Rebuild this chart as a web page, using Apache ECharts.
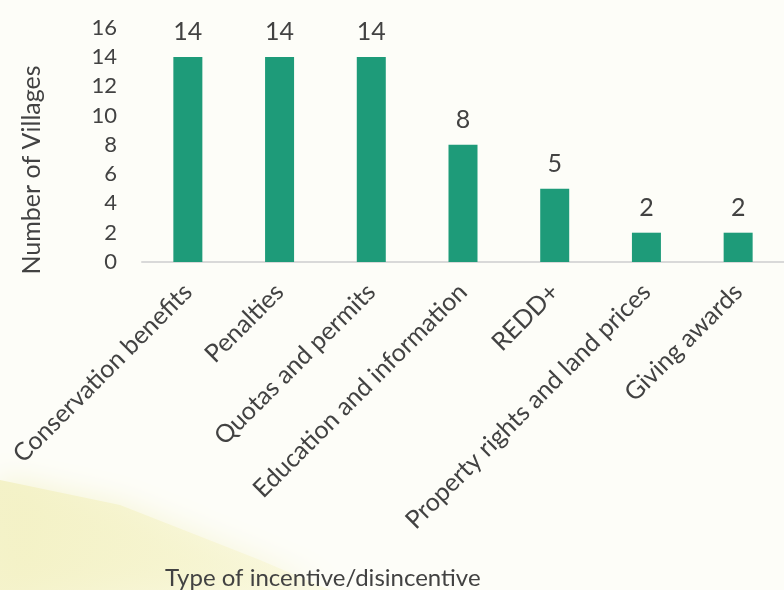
<!DOCTYPE html>
<html>
<head>
<meta charset="utf-8">
<script src="https://cdn.jsdelivr.net/npm/echarts@6/dist/echarts.min.js"></script>
<style>
  html, body { margin: 0; padding: 0; background: #fdfdf8; }
  #chart { width: 784px; height: 590px; }
</style>
</head>
<body>
<div id="chart"></div>
<script>
// chart data
const categories = ['Conservation benefits', 'Penalties', 'Quotas and permits', 'Education and information', 'REDD+', 'Property rights and land prices', 'Giving awards'];
const villages = [14, 14, 14, 8, 5, 2, 2];
const yTicks = { min: 0, max: 16, step: 2 };

const textColor = '#424242';
const font = 'Lato, "Open Sans", sans-serif';

const chart = echarts.init(document.getElementById('chart'));
chart.setOption({
    backgroundColor: '#fdfdf8',
    textStyle: { fontFamily: font },
    graphic: [
        // soft yellow wash in the lower-left corner
        {
            type: 'polygon',
            z: -10,
            shape: { points: [[0, 480], [120, 505], [260, 560], [330, 590], [0, 590]] },
            style: {
                fill: new echarts.graphic.LinearGradient(0, 0, 1, 1, [
                    { offset: 0, color: 'rgba(243,241,196,0.9)' },
                    { offset: 1, color: 'rgba(248,246,210,0.5)' }
                ]),
                shadowBlur: 30,
                shadowColor: 'rgba(242,240,195,0.9)'
            }
        },
        // y axis title
        {
            type: 'text',
            x: 32,
            y: 170,
            rotation: Math.PI / 2,
            style: { text: 'Number of Villages', fontSize: 25, fill: textColor, fontFamily: font, align: 'center', verticalAlign: 'middle' }
        },
        // x axis title
        {
            type: 'text',
            x: 165,
            y: 578,
            style: { text: 'Type of incentive/disincentive', fontSize: 24, fill: textColor, fontFamily: font, verticalAlign: 'middle' }
        }
    ],
    grid: { left: 142, right: -4, top: 27.6, bottom: 328 },
    xAxis: {
        type: 'category',
        data: categories,
        axisLine: { lineStyle: { color: '#d9d9d9', width: 2 } },
        axisTick: { show: false },
        axisLabel: { rotate: 45, fontSize: 25, color: textColor, margin: 26, interval: 0 }
    },
    yAxis: {
        type: 'value',
        min: yTicks.min,
        max: yTicks.max,
        interval: yTicks.step,
        axisLine: { show: false },
        axisTick: { show: false },
        splitLine: { show: false },
        axisLabel: { fontSize: 22, color: textColor, margin: 25 }
    },
    series: [{
        type: 'bar',
        data: villages,
        barWidth: 29,
        itemStyle: { color: '#1e9b79' },
        label: { show: true, position: 'top', distance: 12, fontSize: 25, color: textColor }
    }]
});
</script>
</body>
</html>
